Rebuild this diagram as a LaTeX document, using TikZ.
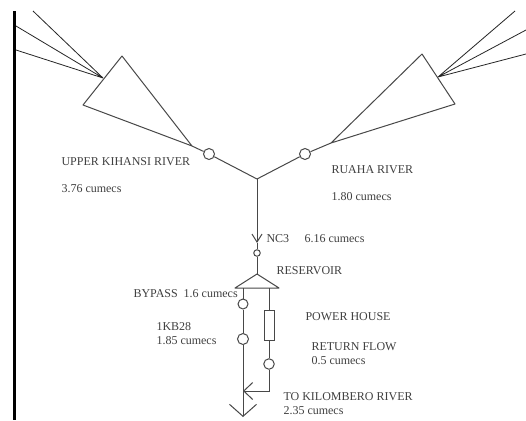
\documentclass[tikz,border=0pt]{standalone}
\usepackage{fontspec}
\setmainfont{Liberation Serif}
\usetikzlibrary{arrows.meta}
\definecolor{cline}{HTML}{484848}
\definecolor{ctext}{HTML}{404040}
\tikzset{
  every picture/.style={line width=1pt},
  gauge/.style={circle, draw=cline, fill=white, inner sep=0pt, minimum size=#1},
  gauge/.default=9pt,
  lbl/.style={anchor=west, inner sep=0pt, yshift=-0.8pt, text=ctext, font=\fontsize{12}{14}\selectfont},
  river/.style={draw=cline},
  feeder/.style={draw=black!85, line width=0.8pt},
  openarrow/.style 2 args={-{Straight Barb[length=#1, width=#2, line width=1pt]}},
}

\begin{document}
\begin{tikzpicture}[x=1pt, y=-1pt]
  \useasboundingbox (0,0) rectangle (526,420);
  \fill[white] (0,0) rectangle (526,420);
  \fill[black] (13,11) rectangle (16,420);
  % catchments
  \coordinate (kihansiTop) at (122,56);
  \coordinate (kihansiLeft) at (83,105);
  \coordinate (kihansiMouth) at (192,146);
  \coordinate (kihansiFeed) at (103,78);
  \coordinate (ruahaTop) at (422,54);
  \coordinate (ruahaRight) at (455,104);
  \coordinate (ruahaMouth) at (331,143);
  \coordinate (ruahaFeed) at (438,77);
  \draw[river, line join=round] (kihansiTop) -- (kihansiLeft) -- (kihansiMouth) -- cycle;
  \draw[river, line join=round] (ruahaTop) -- (ruahaRight) -- (ruahaMouth) -- cycle;
  % feeders
  \coordinate (feedA) at (33,11);
  \coordinate (feedB) at (16,26);
  \coordinate (feedC) at (16,50);
  \coordinate (feedD) at (515,11);
  \coordinate (feedE) at (526,30);
  \coordinate (feedF) at (526,54);
  \draw[feeder] (kihansiFeed) -- (feedA) (kihansiFeed) -- (feedB) (kihansiFeed) -- (feedC);
  \draw[feeder] (ruahaFeed) -- (feedD) (ruahaFeed) -- (feedE) (ruahaFeed) -- (feedF);
  % main stem
  \coordinate (junction) at (257,179);
  \coordinate (nc3Tip) at (257,243);
  \node[gauge=11pt] (kihansiGauge) at (209,154) {};
  \node[gauge=11pt] (ruahaGauge) at (305,154) {};
  \node[gauge=6.5pt] (nc3Gauge) at (257,253) {};
  \draw[river] (kihansiMouth) -- (kihansiGauge) (kihansiGauge) -- (junction);
  \draw[river] (ruahaMouth) -- (ruahaGauge) (ruahaGauge) -- (junction);
  \draw[river, openarrow={8pt}{10pt}] (junction) -- (nc3Tip);
  \draw[river] (nc3Tip) -- (nc3Gauge);
  % reservoir
  \coordinate (resTop) at (257,274);
  \coordinate (resLeft) at (235,288);
  \coordinate (resRight) at (279,288);
  \draw[river, line join=round] (resTop) -- (resLeft) -- (resRight) -- cycle;
  \draw[river] (nc3Gauge) -- (resTop);
  % bypass branch
  \coordinate (bypassTop) at (243,288);
  \coordinate (outlet) at (243,417);
  \coordinate (returnJoin) at (243,391);
  \node[gauge=10pt] (bypassGauge) at (243,304) {};
  \node[gauge=11pt] (kbGauge) at (243,339) {};
  \draw[river] (bypassTop) -- (bypassGauge) (bypassGauge) -- (kbGauge);
  \draw[river, openarrow={12pt}{27pt}] (kbGauge) -- (outlet);
  % power house branch
  \coordinate (powerTop) at (269,288);
  \node[draw=cline, fill=white, minimum width=10pt, minimum height=30pt, inner sep=0pt] (powerHouse) at (269,325) {};
  \node[gauge=10.5pt] (returnGauge) at (269,364) {};
  \draw[river] (powerTop) -- (powerHouse) (powerHouse) -- (returnGauge);
  \draw[river, openarrow={9pt}{17pt}] (returnGauge) |- (returnJoin);
  % labels
  \node[lbl] (kihansiName) at (61,161) {UPPER KIHANSI RIVER};
  \node[lbl] (kihansiFlow) at (61,188) {3.76 cumecs};
  \node[lbl] (ruahaName) at (331,169) {RUAHA RIVER};
  \node[lbl] (ruahaFlow) at (331,196) {1.80 cumecs};
  \node[lbl] (nc3Name) at (266,238) {NC3};
  \node[lbl] (nc3Flow) at (304,238) {6.16 cumecs};
  \node[lbl] (resName) at (276,270) {RESERVOIR};
  \node[lbl] (bypassName) at (133,293) {BYPASS\ \ 1.6 cumecs};
  \node[lbl] (kbName) at (156,326) {1KB28};
  \node[lbl] (kbFlow) at (156,340) {1.85 cumecs};
  \node[lbl] (powerName) at (305,316) {POWER HOUSE};
  \node[lbl] (returnName) at (311,346) {RETURN FLOW};
  \node[lbl] (returnFlow) at (311,360) {0.5 cumecs};
  \node[lbl] (outName) at (283,396) {TO KILOMBERO RIVER};
  \node[lbl] (outFlow) at (283,410) {2.35 cumecs};
\end{tikzpicture}
\end{document}
